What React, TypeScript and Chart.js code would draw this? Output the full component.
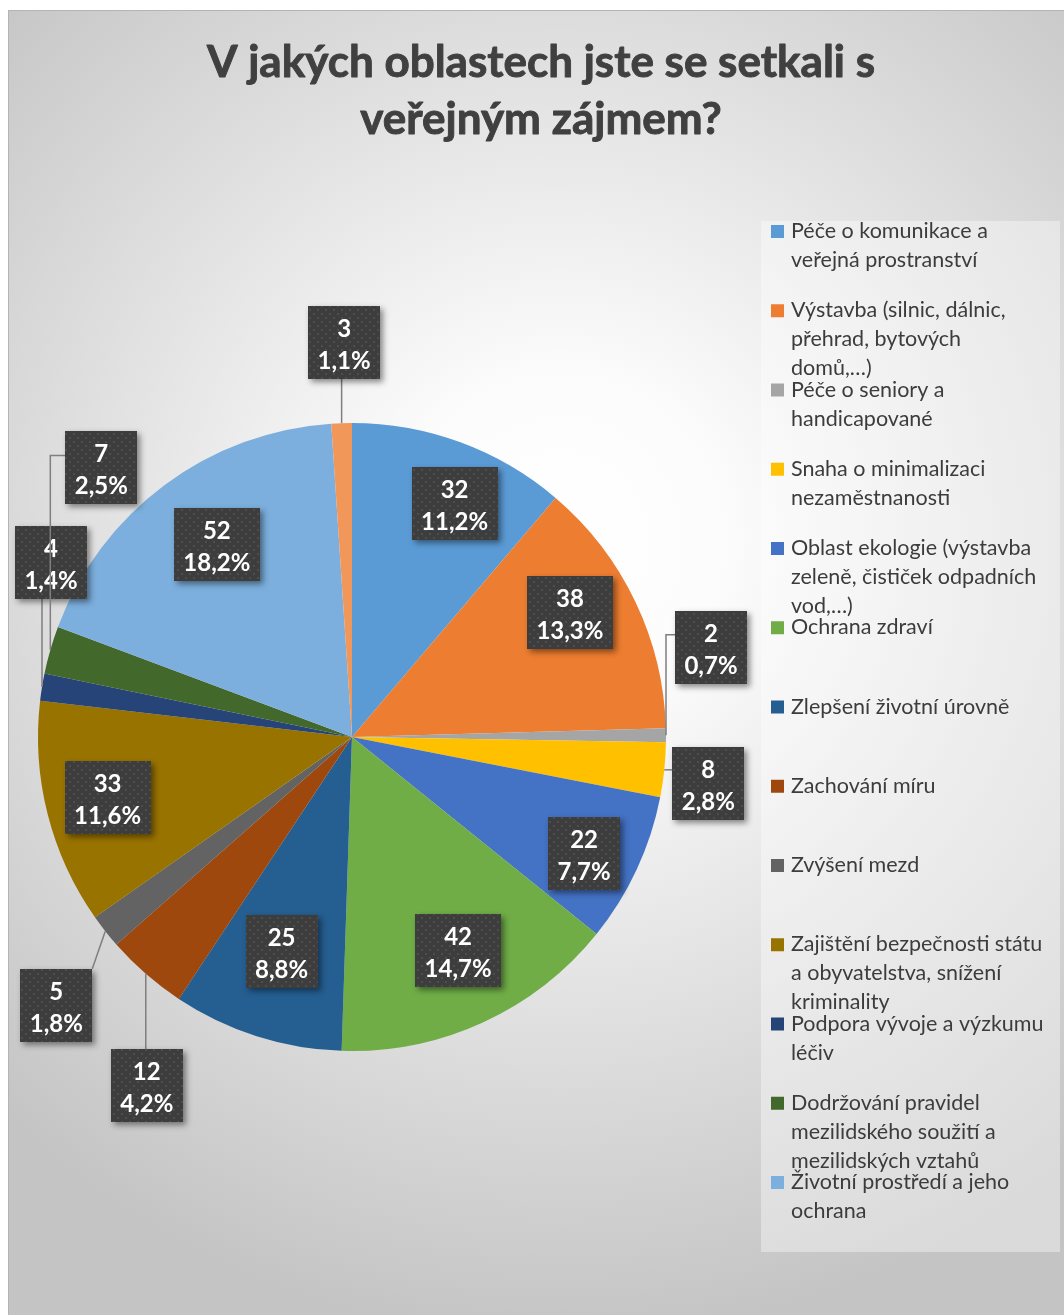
import React, { useEffect, useRef } from "react";
import { Chart, registerables } from "chart.js";

Chart.register(...registerables);

// ---------------- data ----------------
const titleLines = ["V jakých oblastech jste se setkali s", "veřejným zájmem?"];

const categories: string[][] = [
  ["Péče o komunikace a", "veřejná prostranství"],
  ["Výstavba (silnic, dálnic,", "přehrad, bytových", "domů,…)"],
  ["Péče o seniory a", "handicapované"],
  ["Snaha o minimalizaci", "nezaměstnanosti"],
  ["Oblast ekologie (výstavba", "zeleně, čističek odpadních", "vod,…)"],
  ["Ochrana zdraví"],
  ["Zlepšení životní úrovně"],
  ["Zachování míru"],
  ["Zvýšení mezd"],
  ["Zajištění bezpečnosti státu", "a obyvatelstva, snížení", "kriminality"],
  ["Podpora vývoje a výzkumu", "léčiv"],
  ["Dodržování pravidel", "mezilidského soužití a", "mezilidských vztahů"],
  ["Životní prostředí a jeho", "ochrana"],
  ["Jiné"],
];

const counts = [32, 38, 2, 8, 22, 42, 25, 12, 5, 33, 4, 7, 52, 3];

const sliceColors = [
  "#5B9BD5", "#ED7D31", "#A5A5A5", "#FFC000", "#4472C4", "#70AD47", "#255E91",
  "#9E480E", "#636363", "#997300", "#264478", "#43682B", "#7CAFDD", "#F1975A",
];

// ---------------- layout (label placement) ----------------
type Place =
  | { kind: "in"; r: number; dx: number; dy: number }
  | { kind: "out"; dx: number; dy: number; leader: "v" | "h" | "elbow" | "diag" };

const labelPlaces: Place[] = [
  { kind: "in", r: 0.78, dx: 18, dy: -4 },
  { kind: "in", r: 0.78, dx: -3, dy: -19 },
  { kind: "out", dx: 45, dy: -88, leader: "elbow" },
  { kind: "out", dx: 44, dy: 14, leader: "h" },
  { kind: "in", r: 0.78, dx: 10, dy: 13 },
  { kind: "in", r: 0.78, dx: 4, dy: -9 },
  { kind: "in", r: 0.78, dx: 4, dy: -19 },
  { kind: "out", dx: 1, dy: 112, leader: "v" },
  { kind: "out", dx: -49, dy: 74, leader: "diag" },
  { kind: "in", r: 0.78, dx: -7, dy: 0 },
  { kind: "out", dx: 9, dy: -125, leader: "v" },
  { kind: "out", dx: 51, dy: -182, leader: "elbow" },
  { kind: "in", r: 0.78, dx: 11, dy: 4 },
  { kind: "out", dx: 2.5, dy: -81, leader: "v" },
];

const W = 1064;
const H = 1315;
const FONT = "Lato, 'Open Sans', 'Noto Sans', sans-serif";

function fmtPct(v: number, total: number) {
  return (Math.round((v / total) * 1000) / 10).toFixed(1).replace(".", ",") + "%";
}

function makePattern(ctx: CanvasRenderingContext2D) {
  const c = document.createElement("canvas");
  c.width = 8;
  c.height = 8;
  const p = c.getContext("2d")!;
  p.fillStyle = "#3d3d3d";
  p.fillRect(0, 0, 8, 8);
  p.fillStyle = "#4e4e4e";
  p.fillRect(1, 1, 2, 2);
  p.fillRect(5, 5, 2, 2);
  return ctx.createPattern(c, "repeat");
}

const decorPlugin = {
  id: "decor",
  beforeDraw(chart: any) {
    const ctx: CanvasRenderingContext2D = chart.ctx;
    ctx.save();
    ctx.fillStyle = "#ffffff";
    ctx.fillRect(0, 0, W, H);
    // chart frame with radial gradient
    const g = ctx.createRadialGradient(560, 540, 0, 560, 540, 800);
    g.addColorStop(0, "#ffffff");
    g.addColorStop(0.2, "#fcfcfc");
    g.addColorStop(1, "#c4c4c4");
    ctx.fillStyle = g;
    ctx.fillRect(8, 10, W, H);
    ctx.strokeStyle = "#b4b4b4";
    ctx.lineWidth = 1;
    ctx.strokeRect(8.5, 10.5, W + 10, H + 10);

    // title
    ctx.fillStyle = "#404040";
    ctx.strokeStyle = "#404040";
    ctx.lineWidth = 0.9;
    ctx.lineJoin = "round";
    ctx.font = `bold 44px ${FONT}`;
    ctx.textAlign = "center";
    ctx.textBaseline = "alphabetic";
    titleLines.forEach((t, j) => {
      ctx.fillText(t, 541, 77 + j * 57);
      ctx.strokeText(t, 541, 77 + j * 57);
    });

    // legend
    const lx = 761, ly = 221, lw = 299, lh = 1031;
    ctx.fillStyle = "rgba(255,255,255,0.38)";
    ctx.fillRect(lx, ly, lw, lh);
    ctx.beginPath();
    ctx.rect(lx, ly, lw, lh);
    ctx.clip();
    const labels: string[][] = chart.data.labels;
    const colors: string[] = chart.data.datasets[0].backgroundColor;
    ctx.font = `21.5px ${FONT}`;
    ctx.textAlign = "left";
    labels.forEach((lines, i) => {
      const base = 238 + i * 79.25;
      if (base > ly + lh - 6) return;
      ctx.fillStyle = colors[i];
      ctx.fillRect(771, base - 13, 13, 13);
      ctx.fillStyle = "#3c3c3c";
      lines.forEach((t, j) => ctx.fillText(t, 791, base + j * 29));
    });
    ctx.restore();
  },
  afterDatasetsDraw(chart: any) {
    const ctx: CanvasRenderingContext2D = chart.ctx;
    const data: number[] = chart.data.datasets[0].data;
    const total = data.reduce((a, b) => a + b, 0);
    const meta = chart.getDatasetMeta(0);
    const pattern = makePattern(ctx);
    ctx.save();
    meta.data.forEach((arc: any, i: number) => {
      const { x, y, startAngle, endAngle, outerRadius } = arc.getProps(
        ["x", "y", "startAngle", "endAngle", "outerRadius"],
        true
      );
      const mid = (startAngle + endAngle) / 2;
      const c = Math.cos(mid), s = Math.sin(mid);
      const place = labelPlaces[i];
      const l1 = String(data[i]);
      const l2 = fmtPct(data[i], total);
      ctx.font = `bold 24px ${FONT}`;
      const tw = Math.max(ctx.measureText(l1).width, ctx.measureText(l2).width);
      const bw = Math.round(tw + 19);
      const bh = 73;
      let bx: number, by: number;
      if (place.kind === "in") {
        bx = x + c * outerRadius * place.r + place.dx;
        by = y + s * outerRadius * place.r + place.dy;
      } else {
        const ax = x + c * outerRadius;
        const ay = y + s * outerRadius;
        bx = ax + place.dx;
        by = ay + place.dy;
        const left = bx - bw / 2, top = by - bh / 2;
        ctx.strokeStyle = "#7f7f7f";
        ctx.lineWidth = 1.5;
        ctx.beginPath();
        ctx.moveTo(ax, ay);
        if (place.leader === "v") {
          ctx.lineTo(ax, by < ay ? top + bh : top);
        } else if (place.leader === "h") {
          ctx.lineTo(bx > ax ? left : left + bw, ay);
        } else if (place.leader === "elbow") {
          const ey = top + bh * 0.33;
          ctx.lineTo(ax, ey);
          ctx.lineTo(bx > ax ? left : left + bw, ey);
        } else {
          const cx = bx > ax ? left : left + bw;
          const cy = by > ay ? top : top + bh;
          ctx.lineTo(cx, cy);
        }
        ctx.stroke();
      }
      const left = Math.round(bx - bw / 2), top = Math.round(by - bh / 2);
      ctx.save();
      ctx.shadowColor = "rgba(0,0,0,0.45)";
      ctx.shadowBlur = 6;
      ctx.shadowOffsetX = 3;
      ctx.shadowOffsetY = 3;
      ctx.fillStyle = "#3d3d3d";
      ctx.fillRect(left, top, bw, bh);
      ctx.restore();
      if (pattern) {
        ctx.fillStyle = pattern;
        ctx.fillRect(left, top, bw, bh);
      }
      ctx.fillStyle = "#ffffff";
      ctx.textAlign = "center";
      ctx.textBaseline = "middle";
      ctx.fillText(l1, bx, top + 23);
      ctx.fillText(l2, bx, top + 55);
    });
    ctx.restore();
  },
};

export default function App() {
  const ref = useRef<HTMLCanvasElement | null>(null);

  useEffect(() => {
    let chart: Chart | null = null;
    let cancelled = false;
    const fontsReady = (document as any).fonts
      ? Promise.all([
          (document as any).fonts.load(`bold 44px Lato`),
          (document as any).fonts.load(`21px Lato`),
        ]).catch(() => null)
      : Promise.resolve(null);
    fontsReady.then(() => {
      if (cancelled || !ref.current) return;
      chart = new Chart(ref.current, {
        type: "pie",
        data: {
          labels: categories as any,
          datasets: [
            {
              data: counts,
              backgroundColor: sliceColors,
              borderWidth: 0,
              hoverBorderWidth: 0,
              offset: 0,
              hoverOffset: 0,
            } as any,
          ],
        },
        options: {
          responsive: false,
          animation: false,
          events: [],
          layout: { padding: { left: 38, right: W - 666, top: 423, bottom: H - 1051 } },
          plugins: {
            legend: { display: false },
            title: { display: false },
            tooltip: { enabled: false },
          },
        },
        plugins: [decorPlugin],
      });
    });
    return () => {
      cancelled = true;
      if (chart) chart.destroy();
    };
  }, []);

  return (
    <div style={{ position: "fixed", left: 0, top: 0, width: W, height: H, overflow: "hidden" }}>
      <canvas ref={ref} width={W} height={H} style={{ display: "block", width: W, height: H }} />
    </div>
  );
}
